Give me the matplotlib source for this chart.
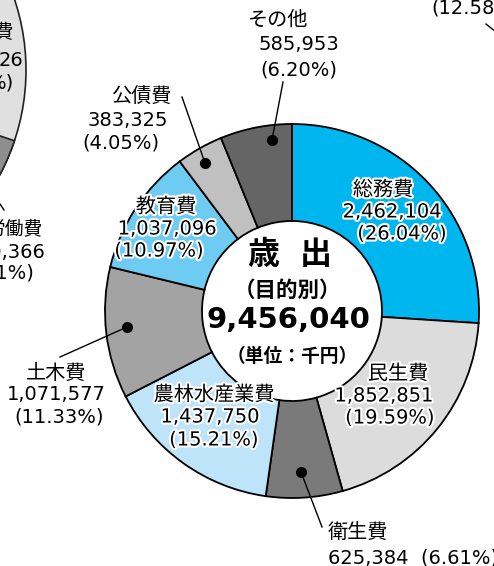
import matplotlib.pyplot as plt
import matplotlib.patheffects as pe
from matplotlib.patches import Circle, Wedge

# 歳出（目的別）, 単位: 千円
categories = ["総務費", "民生費", "衛生費", "農林水産業費", "土木費", "教育費", "公債費", "その他"]
amounts = [2462104, 1852851, 625384, 1437750, 1071577, 1037096, 383325, 585953]
shares = [26.04, 19.59, 6.61, 15.21, 11.33, 10.97, 4.05, 6.20]
total = 9456040
colors = ["#00b6ee", "#dcdcdc", "#7a7a7a", "#bde4f8",
          "#a3a3a3", "#6ecbf2", "#c0c0c0", "#656565"]

W, H = 494, 566
FAM = ["DejaVu Sans", "Noto Sans CJK JP"]
JP = ["Noto Sans CJK JP", "DejaVu Sans"]


def px(x, y):
    # picture pixel coords (y down) -> axes data coords (y up)
    return x, H - y


fig = plt.figure(figsize=(W / 100, H / 100), dpi=100)
ax = fig.add_axes([0, 0, 1, 1])

cx, cy = px(292, 311)
R, r_in = 187, 90
ax.pie(amounts, colors=colors, startangle=90, counterclock=False,
       center=(cx, cy), radius=R,
       wedgeprops=dict(width=R - r_in, edgecolor="black", linewidth=1.3))

# neighbouring chart, cut off at the left edge
lx, ly = px(-197, 70)
ax.add_patch(Circle((lx, ly), 223, facecolor="#e0e0e0", edgecolor="#222222", lw=1.2))
ax.add_patch(Wedge((lx, ly), 223, -32, -18.5, facecolor="#8e8e8e",
                   edgecolor="#222222", lw=1.2))
for txt, x, y, fs in [("費", 13, 33, 14), ("26", 23, 60, 14), ("%)", 14, 83, 14),
                      ("労働費", 42, 229, 13.5), ("10,366", 46, 252, 14),
                      ("(0.01%)", 34, 273, 14)]:
    ax.text(*px(x, y), txt, ha="right", va="center", fontsize=fs, family=FAM)
ax.plot(*zip(px(-4, 198), px(4, 210)), color="black", lw=1)
ax.text(*px(431, 8), "(12.58%)", ha="left", va="center", fontsize=14, family=FAM)
ax.plot(*zip(px(486, 24), px(496, 32)), color="black", lw=1)

# label layout: (x center, y center) of each text line, in picture pixels
inside = {
    "総務費": [(383, 190), (392, 212), (402, 234)],
    "民生費": [(398, 374), (384, 396), (390, 418)],
    "農林水産業費": [(214, 395), (210, 417), (214, 440)],
    "教育費": [(166, 207), (167, 229), (159, 251)],
}
outside = {
    "その他": [(278, 20), (299, 45), (299, 70)],
    "公債費": [(142, 97), (128, 120), (121, 143)],
    "土木費": [(56, 373), (56, 395), (59, 417)],
}
leaders = {
    "その他": ((283, 82), (272, 140)),
    "公債費": ((182, 97), (205, 163)),
    "土木費": ((60, 357), (127, 327)),
    "衛生費": ((322, 527), (301, 472)),
}
halo = [pe.withStroke(linewidth=3, foreground="white")]

for name, amt, sh in zip(categories, amounts, shares):
    lines = [name, f"{amt:,}", f"({sh:.2f}%)"]
    sizes = [14.5, 14, 14]
    if name in inside or name in outside:
        pos = inside.get(name) or outside.get(name)
        effects = halo if name in inside else None
        for t, (x, y), fs in zip(lines, pos, sizes):
            ax.text(*px(x, y), t, ha="center", va="center", fontsize=fs,
                    family=FAM, path_effects=effects)
    else:
        ax.text(*px(328, 532), lines[0], ha="left", va="center", fontsize=14.5,
                family=FAM)
        ax.text(*px(328, 558), f"{amt:,}  ({sh:.2f}%)", ha="left", va="center",
                fontsize=14, family=FAM)
    if name in leaders:
        (x0, y0), (x1, y1) = leaders[name]
        ax.plot([px(x0, y0)[0], px(x1, y1)[0]], [px(x0, y0)[1], px(x1, y1)[1]],
                color="black", lw=1)
        ax.plot(*px(x1, y1), "o", color="black", markersize=7)

# centre
ax.text(*px(263, 255), "歳", ha="center", va="center", fontsize=23,
        fontweight="bold", family=JP)
ax.text(*px(316, 255), "出", ha="center", va="center", fontsize=23,
        fontweight="bold", family=JP)
ax.text(*px(288, 290), "（目的別）", ha="center", va="center", fontsize=15.5,
        fontweight="bold", family=JP)
ax.text(*px(288, 320), f"{total:,}", ha="center", va="center", fontsize=21,
        fontweight="bold", family=FAM)
ax.text(*px(292, 357), "（単位：千円）", ha="center", va="center", fontsize=13.5,
        fontweight="bold", family=JP)

ax.set_xlim(0, W)
ax.set_ylim(0, H)
ax.set_aspect("equal")
ax.axis("off")

fig.savefig("out.png", dpi=100)
